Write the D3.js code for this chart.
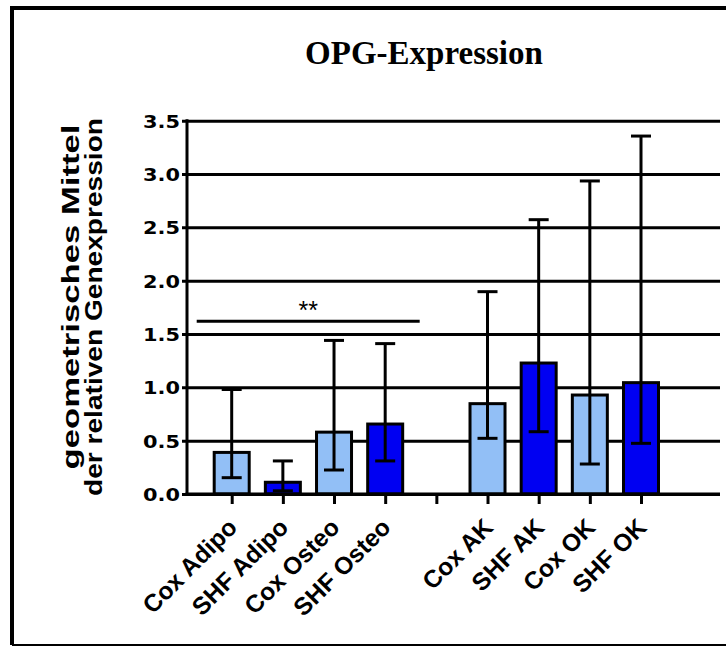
<!DOCTYPE html>
<html>
<head>
<meta charset="utf-8">
<script src="https://cdn.jsdelivr.net/npm/d3@7"></script>
<style>
  html, body { margin: 0; padding: 0; background: #fff; }
  svg { display: block; }
</style>
</head>
<body>
<script>
// Groups on the x axis; the blank slot separates the two experiment blocks
const slots = ["Cox Adipo", "SHF Adipo", "Cox Osteo", "SHF Osteo", "gap", "Cox AK", "SHF AK", "Cox OK", "SHF OK"];
const categories = ["Cox Adipo", "SHF Adipo", "Cox Osteo", "SHF Osteo", "Cox AK", "SHF AK", "Cox OK", "SHF OK"];
const groupType = ["Cox", "SHF", "Cox", "SHF", "Cox", "SHF", "Cox", "SHF"];
// geometric mean and its error range
const means = [0.39, 0.11, 0.58, 0.656, 0.847, 1.228, 0.928, 1.044];
const lowerErr = [0.153, 0.03, 0.225, 0.31, 0.522, 0.584, 0.281, 0.475];
const upperErr = [0.98, 0.31, 1.44, 1.41, 1.897, 2.572, 2.935, 3.356];
const yTicks = [0, 0.5, 1.0, 1.5, 2.0, 2.5, 3.0, 3.5];
// significance bracket over the first block
const sigFrom = "Cox Adipo", sigTo = "SHF Osteo", sigLevel = 1.62, sigLabel = "**";

const W = 726, H = 646;
const svg = d3.select("body").append("svg").attr("width", W).attr("height", H);

// frame
svg.append("path")
  .attr("d", `M12,645 L12,8 L726,8`)
  .attr("fill", "none").attr("stroke", "#000").attr("stroke-width", 4);
svg.append("line").attr("x1", 12).attr("x2", 726).attr("y1", 645).attr("y2", 645)
  .attr("stroke", "#000").attr("stroke-width", 2);

const plotLeft = 187, plotRight = 720;
const y = d3.scaleLinear().domain([0, 3.5]).range([494, 120.7]);
const x = d3.scalePoint().domain(slots).range([231.7, 641]);
const barW = 35;
const color = d3.scaleOrdinal().domain(["Cox", "SHF"]).range(["#92bff6", "#0000f2"]);
const sans = "'DejaVu Sans', Verdana, sans-serif";
const arial = "'Liberation Sans', Arial, sans-serif";

// title
svg.append("text")
  .attr("x", 424).attr("y", 64)
  .attr("text-anchor", "middle")
  .attr("font-family", "'Liberation Serif', 'Times New Roman', serif")
  .attr("font-weight", "bold").attr("font-size", 33)
  .text("OPG-Expression");

// horizontal grid lines (also serve as y ticks)
const yAxis = d3.axisLeft(y).tickValues(yTicks).tickFormat(d3.format(".1f"))
  .tickSize(-(plotRight - plotLeft)).tickPadding(6);
const gy = svg.append("g").attr("transform", `translate(${plotLeft},0)`).call(yAxis);
gy.select(".domain").remove();
gy.selectAll(".tick line").attr("stroke", "#000").attr("stroke-width", 3)
  .attr("x1", -5);
gy.selectAll(".tick text")
  .attr("font-family", sans)
  .attr("font-weight", "bold").attr("font-size", 18).attr("fill", "#000")
  .attr("text-anchor", "start")
  .attr("x", 143 - plotLeft)
  .attr("dy", "0.36em")
  .attr("textLength", 37).attr("lengthAdjust", "spacingAndGlyphs");

// y axis line
svg.append("line").attr("x1", plotLeft).attr("x2", plotLeft)
  .attr("y1", y(3.5) - 1.5).attr("y2", y(0) + 1.5)
  .attr("stroke", "#000").attr("stroke-width", 3);

// y axis title (two lines)
const yTitle = svg.append("g")
  .attr("font-family", arial)
  .attr("font-weight", "bold").attr("font-size", 24).attr("text-anchor", "middle");
yTitle.append("text").attr("transform", "translate(79,297) rotate(-90)")
  .attr("textLength", 345).attr("lengthAdjust", "spacingAndGlyphs")
  .text("geometrisches Mittel");
yTitle.append("text").attr("transform", "translate(102,307) rotate(-90)")
  .attr("textLength", 378).attr("lengthAdjust", "spacingAndGlyphs")
  .text("der relativen Genexpression");

// bars
const rows = categories.map((c, i) => ({ c, g: groupType[i], m: means[i], lo: lowerErr[i], hi: upperErr[i] }));
svg.append("g").selectAll("rect").data(rows).join("rect")
  .attr("x", d => x(d.c) - barW / 2)
  .attr("y", d => y(d.m))
  .attr("width", barW)
  .attr("height", d => y(0) - y(d.m))
  .attr("fill", d => color(d.g))
  .attr("stroke", "#000").attr("stroke-width", 3);

// error bars
const capW = 20;
const eb = svg.append("g").attr("stroke", "#000").attr("stroke-width", 3);
rows.forEach(d => {
  const cx = x(d.c);
  eb.append("line").attr("x1", cx).attr("x2", cx).attr("y1", y(d.lo)).attr("y2", y(d.hi));
  eb.append("line").attr("x1", cx - capW / 2).attr("x2", cx + capW / 2).attr("y1", y(d.hi)).attr("y2", y(d.hi));
  eb.append("line").attr("x1", cx - capW / 2).attr("x2", cx + capW / 2).attr("y1", y(d.lo)).attr("y2", y(d.lo));
});

// x axis with ticks
const xAxis = d3.axisBottom(x).tickSize(10).tickFormat("");
const gx = svg.append("g").attr("transform", `translate(0,${y(0)})`).call(xAxis);
gx.select(".domain").remove();
gx.selectAll(".tick line").attr("stroke", "#000").attr("stroke-width", 3);
svg.append("line").attr("x1", plotLeft - 1.5).attr("x2", plotRight)
  .attr("y1", y(0)).attr("y2", y(0)).attr("stroke", "#000").attr("stroke-width", 3);

// rotated category labels
svg.append("g").selectAll("text").data(categories).join("text")
  .attr("transform", d => `translate(${x(d) + 7},${y(0) + 35}) rotate(-45)`)
  .attr("text-anchor", "end")
  .attr("font-family", arial)
  .attr("font-weight", "bold").attr("font-size", 24.5)
  .text(d => d);

// significance line
const sx1 = x(sigFrom) - 35, sx2 = x(sigTo) + 34.5;
svg.append("line").attr("x1", sx1).attr("x2", sx2)
  .attr("y1", y(sigLevel)).attr("y2", y(sigLevel))
  .attr("stroke", "#000").attr("stroke-width", 3);
svg.append("text").attr("x", (sx1 + sx2) / 2).attr("y", y(sigLevel) - 2)
  .attr("text-anchor", "middle")
  .attr("font-family", arial)
  .attr("font-size", 25)
  .text(sigLabel);
</script>
</body>
</html>
